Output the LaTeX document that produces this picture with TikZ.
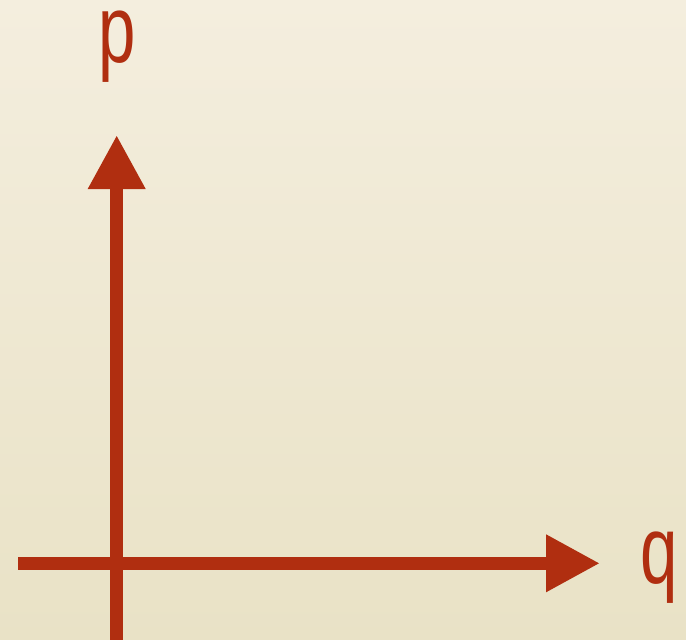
\documentclass[tikz,border=0pt]{standalone}
\usepackage{fontspec}
\newfontfamily\labelfont[FakeStretch=0.7]{Liberation Sans}
\usetikzlibrary{arrows.meta}
\definecolor{axisred}{RGB}{176,46,16}
\definecolor{bgtop}{RGB}{244,238,222}
\definecolor{bgbot}{RGB}{233,226,198}
\tikzset{
  axis/.style={draw=axisred, line width=13pt, -{Triangle[length=54pt,width=54pt]}},
  axlabel/.style={text=axisred, font=\labelfont\fontsize{96}{96}\selectfont, anchor=base, inner sep=0pt}
}
\begin{document}
\begin{tikzpicture}[x=1pt,y=-1pt]
\useasboundingbox (0,0) rectangle (686,640);
\shade[top color=bgtop, bottom color=bgbot] (0,0) rectangle (686,640);
\coordinate (vbot) at (116.7,645);
\coordinate (vtop) at (116.7,135);
\coordinate (hleft) at (18.3,563.3);
\coordinate (hright) at (600,563.3);
\draw[axis] (vbot) -- (vtop);
\draw[axis] (hleft) -- (hright);
\node[axlabel] (p) at (116.7,62) {p};
\node[axlabel] (q) at (659.5,583) {q};
\end{tikzpicture}
\end{document}
